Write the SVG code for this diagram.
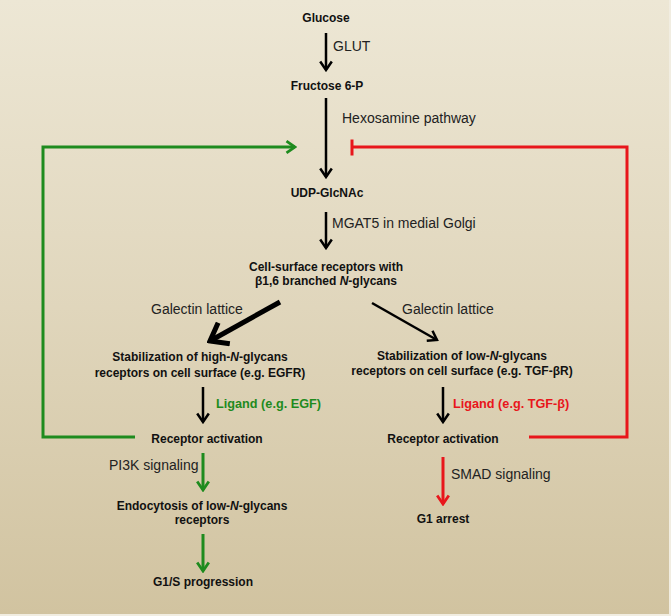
<svg xmlns="http://www.w3.org/2000/svg" width="671" height="616" viewBox="0 0 671 616">
<defs>
<linearGradient id="bg" x1="0" y1="0" x2="0" y2="1">
<stop offset="0" stop-color="#EDE7D5"/>
<stop offset="0.5" stop-color="#E0D6BC"/>
<stop offset="1" stop-color="#D1C3A0"/>
</linearGradient>
<marker id="ab" markerUnits="userSpaceOnUse" viewBox="0 0 12 14" markerWidth="12" markerHeight="14" refX="10" refY="7" orient="auto">
<path d="M1.5,1.2 L10,7 L1.5,12.8" fill="none" stroke="#000" stroke-width="2.5"/>
</marker>
<marker id="ag" markerUnits="userSpaceOnUse" viewBox="0 0 12 14" markerWidth="12" markerHeight="14" refX="10" refY="7" orient="auto">
<path d="M1.5,1.2 L10,7 L1.5,12.8" fill="none" stroke="#1E8B1E" stroke-width="2.8"/>
</marker>
<marker id="ar" markerUnits="userSpaceOnUse" viewBox="0 0 12 14" markerWidth="12" markerHeight="14" refX="10" refY="7" orient="auto">
<path d="M1.5,1.2 L10,7 L1.5,12.8" fill="none" stroke="#E8161B" stroke-width="2.8"/>
</marker>
<marker id="abig" markerUnits="userSpaceOnUse" viewBox="0 0 22 28" markerWidth="22" markerHeight="28" refX="19" refY="14" orient="auto">
<path d="M3,2 L19,14 L3,26" fill="none" stroke="#000" stroke-width="5"/>
</marker>
</defs>
<style>
.n{font-family:"Liberation Sans",Arial,sans-serif;font-weight:bold;font-size:12px;fill:#111;text-anchor:middle}
.l{font-family:"Liberation Sans",Arial,sans-serif;font-size:14px;fill:#222}
.lg{font-family:"Liberation Sans",Arial,sans-serif;font-weight:bold;font-size:12.7px;fill:#1E8B1E}
.lr{font-family:"Liberation Sans",Arial,sans-serif;font-weight:bold;font-size:12.7px;fill:#E8161B}
.k{stroke:#000;stroke-width:2.5;fill:none}
.g{stroke:#1E8B1E;stroke-width:3;fill:none}
.r{stroke:#E8161B;stroke-width:3;fill:none}
</style>
<rect x="0" y="0" width="671" height="616" fill="#F1EDE1"/>
<rect x="0" y="0" width="669" height="614" fill="url(#bg)"/>

<g id="connectors">
<line class="k" x1="326" y1="33" x2="326" y2="70" marker-end="url(#ab)"/>
<line class="k" x1="326" y1="98" x2="326" y2="177" marker-end="url(#ab)"/>
<line class="k" x1="326" y1="212" x2="326" y2="248" marker-end="url(#ab)"/>
<line x1="280" y1="302" x2="210" y2="341" stroke="#000" stroke-width="5" marker-end="url(#abig)"/>
<line class="k" x1="372" y1="303" x2="437" y2="340" marker-end="url(#ab)"/>
<line class="k" x1="203" y1="387" x2="203" y2="422" marker-end="url(#ab)"/>
<line class="k" x1="443" y1="387" x2="443" y2="422" marker-end="url(#ab)"/>
<line class="g" x1="203" y1="453" x2="203" y2="490" marker-end="url(#ag)"/>
<line class="g" x1="203" y1="534" x2="203" y2="571" marker-end="url(#ag)"/>
<line class="r" x1="443" y1="457" x2="443" y2="504" marker-end="url(#ar)"/>
<polyline class="g" points="135,437 43,437 43,147 295,147" marker-end="url(#ag)"/>
<polyline class="r" points="529,437 627,437 627,147 352,147"/>
<line class="r" x1="352" y1="139.5" x2="352" y2="155.5"/>
</g>

<g id="glucose"><text class="n" x="326" y="22">Glucose</text></g>
<g id="glut"><text class="l" x="333" y="51">GLUT</text></g>
<g id="fructose"><text class="n" x="327" y="90">Fructose 6-P</text></g>
<g id="hexosamine"><text class="l" x="342" y="123">Hexosamine pathway</text></g>
<g id="udp"><text class="n" x="327" y="197">UDP-GlcNAc</text></g>
<g id="mgat5"><text class="l" x="332" y="228">MGAT5 in medial Golgi</text></g>
<g id="cellsurface">
<text class="n" x="326" y="271">Cell-surface receptors with</text>
<text class="n" x="326" y="285">β1,6 branched <tspan font-style="italic">N</tspan>-glycans</text>
</g>
<g id="galectin-left"><text class="l" x="151" y="314">Galectin lattice</text></g>
<g id="galectin-right"><text class="l" x="402" y="314">Galectin lattice</text></g>
<g id="stab-high">
<text class="n" x="200" y="361">Stabilization of high-<tspan font-style="italic">N</tspan>-glycans</text>
<text class="n" x="200" y="377">receptors on cell surface (e.g. EGFR)</text>
</g>
<g id="stab-low">
<text class="n" x="462" y="360">Stabilization of low-<tspan font-style="italic">N</tspan>-glycans</text>
<text class="n" x="462" y="375">receptors on cell surface (e.g. TGF-βR)</text>
</g>
<g id="ligand-egf"><text class="lg" x="216" y="408">Ligand (e.g. EGF)</text></g>
<g id="ligand-tgf"><text class="lr" x="453" y="408">Ligand (e.g. TGF-β)</text></g>
<g id="activation-left"><text class="n" x="207" y="443">Receptor activation</text></g>
<g id="activation-right"><text class="n" x="443" y="443">Receptor activation</text></g>
<g id="pi3k"><text class="l" x="109" y="470">PI3K signaling</text></g>
<g id="smad"><text class="l" x="451" y="479">SMAD signaling</text></g>
<g id="endocytosis">
<text class="n" x="202" y="510">Endocytosis of low-<tspan font-style="italic">N</tspan>-glycans</text>
<text class="n" x="202" y="524">receptors</text>
</g>
<g id="g1s"><text class="n" x="203" y="586">G1/S progression</text></g>
<g id="g1arrest"><text class="n" x="443" y="523">G1 arrest</text></g>
</svg>
